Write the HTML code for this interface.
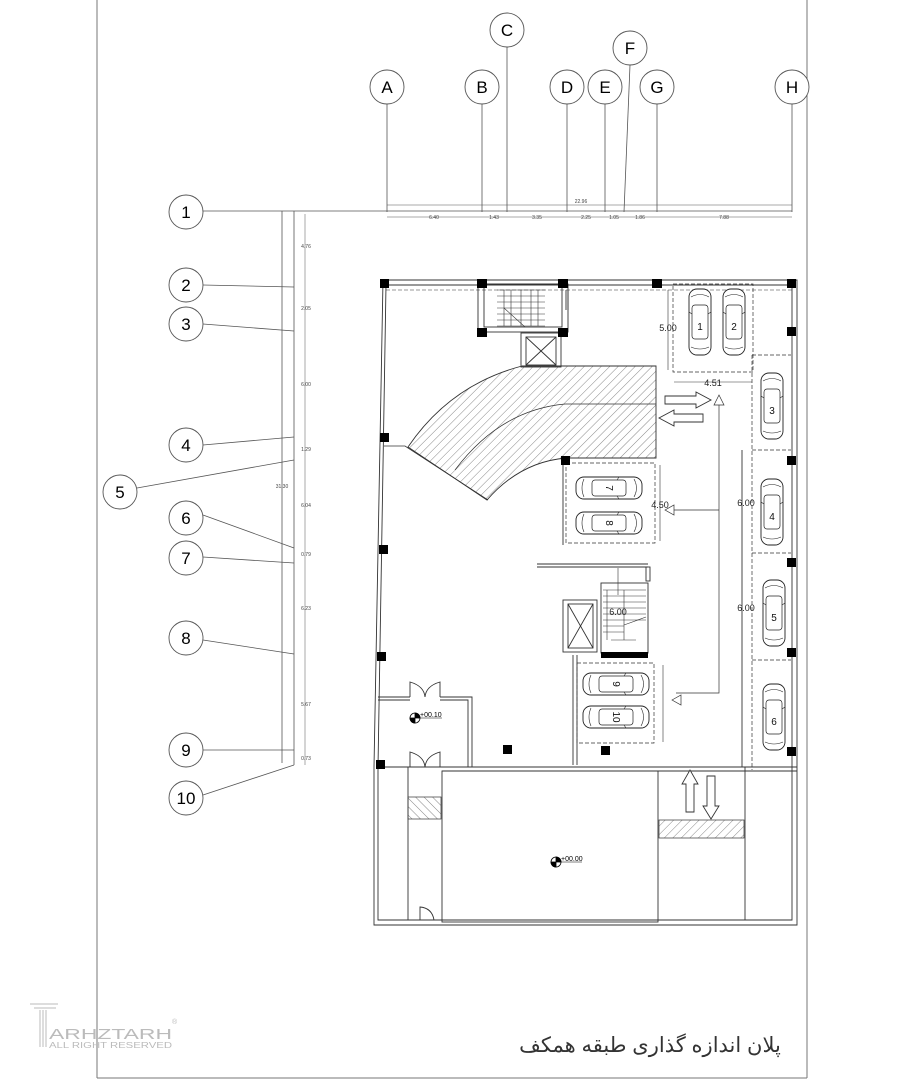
<!DOCTYPE html>
<html><head><meta charset="utf-8"><style>
html,body{margin:0;padding:0;background:#fff;}
svg{display:block;}
text{font-family:"Liberation Sans",sans-serif;}
</style></head><body>
<svg width="906" height="1080" viewBox="0 0 906 1080" xmlns="http://www.w3.org/2000/svg">
<defs>
<pattern id="hatch" width="6" height="6" patternUnits="userSpaceOnUse" patternTransform="rotate(45)">
<line x1="0" y1="0" x2="0" y2="6" stroke="#555" stroke-width="0.7"/>
</pattern>
<pattern id="hatch2" width="6" height="6" patternUnits="userSpaceOnUse" patternTransform="rotate(-45)">
<line x1="0" y1="0" x2="0" y2="6" stroke="#555" stroke-width="0.7"/>
</pattern>
<g id="car">
<rect x="-11" y="-33" width="22" height="66" rx="8" fill="#fff" stroke="#222" stroke-width="0.9"/>
<rect x="-8" y="-17" width="16" height="34" rx="3" fill="none" stroke="#222" stroke-width="0.7"/>
<path d="M-9,-25 Q0,-30 9,-25 M-9,25 Q0,29 9,25 M-11,-10 L-8,-8 M11,-10 L8,-8" fill="none" stroke="#222" stroke-width="0.6"/>
</g>
</defs>

<line x1="97" y1="0" x2="97" y2="1078" stroke="#777" stroke-width="1"/>
<line x1="807" y1="0" x2="807" y2="1078" stroke="#777" stroke-width="1"/>
<line x1="97" y1="1078" x2="807" y2="1078" stroke="#777" stroke-width="1"/>

<g stroke="#555" stroke-width="0.8" fill="none">
<line x1="387" y1="104" x2="387" y2="212"/>
<line x1="482" y1="104" x2="482" y2="212"/>
<line x1="507" y1="47" x2="507" y2="212"/>
<line x1="567" y1="104" x2="567" y2="212"/>
<line x1="605" y1="104" x2="605" y2="212"/>
<line x1="630" y1="65" x2="624" y2="212"/>
<line x1="657" y1="104" x2="657" y2="212"/>
<line x1="792" y1="104" x2="792" y2="212"/>
<line x1="203" y1="211" x2="792" y2="211"/>
<line x1="387" y1="205" x2="792" y2="205" stroke-width="0.5"/>
<line x1="387" y1="217" x2="792" y2="217" stroke-width="0.5"/>
<line x1="282" y1="211" x2="282" y2="763"/>
<line x1="294" y1="211" x2="294" y2="765"/>
<line x1="305" y1="214" x2="305" y2="765" stroke-width="0.5"/>
<line x1="203" y1="285" x2="294" y2="287"/>
<line x1="203" y1="324" x2="294" y2="331"/>
<line x1="203" y1="445" x2="294" y2="437"/>
<line x1="137" y1="488" x2="294" y2="460"/>
<line x1="203" y1="515" x2="294" y2="548"/>
<line x1="203" y1="557" x2="294" y2="563"/>
<line x1="203" y1="640" x2="294" y2="654"/>
<line x1="203" y1="750" x2="294" y2="750"/>
<line x1="203" y1="795" x2="294" y2="765"/>
</g>
<g font-size="5" fill="#444" text-anchor="middle">
<text x="581" y="203">22.96</text>
<text x="434" y="219">6.40</text><text x="494" y="219">1.43</text><text x="537" y="219">3.35</text>
<text x="586" y="219">2.25</text><text x="614" y="219">1.05</text><text x="640" y="219">1.86</text><text x="724" y="219">7.88</text>
<text x="306" y="248">4.76</text><text x="306" y="310">2.05</text><text x="306" y="386">6.00</text>
<text x="306" y="451">1.29</text><text x="306" y="507">6.04</text><text x="306" y="556">0.79</text>
<text x="306" y="610">6.23</text><text x="306" y="706">5.67</text><text x="306" y="760">0.73</text>
<text x="282" y="488">31.30</text>
</g>

<g fill="#fff" stroke="#555" stroke-width="0.9">
<circle cx="387" cy="87" r="17"/><circle cx="482" cy="87" r="17"/><circle cx="507" cy="30" r="17"/>
<circle cx="567" cy="87" r="17"/><circle cx="605" cy="87" r="17"/><circle cx="630" cy="48" r="17"/>
<circle cx="657" cy="87" r="17"/><circle cx="792" cy="87" r="17"/>
<circle cx="186" cy="212" r="17"/><circle cx="186" cy="285" r="17"/><circle cx="186" cy="324" r="17"/>
<circle cx="186" cy="445" r="17"/><circle cx="120" cy="492" r="17"/><circle cx="186" cy="518" r="17"/>
<circle cx="186" cy="558" r="17"/><circle cx="186" cy="638" r="17"/><circle cx="186" cy="750" r="17"/>
<circle cx="186" cy="798" r="17"/>
</g>
<g font-size="17" fill="#000" text-anchor="middle">
<text x="387" y="93">A</text><text x="482" y="93">B</text><text x="507" y="36">C</text>
<text x="567" y="93">D</text><text x="605" y="93">E</text><text x="630" y="54">F</text>
<text x="657" y="93">G</text><text x="792" y="93">H</text>
<text x="186" y="218">1</text><text x="186" y="291">2</text><text x="186" y="330">3</text>
<text x="186" y="451">4</text><text x="120" y="498">5</text><text x="186" y="524">6</text>
<text x="186" y="564">7</text><text x="186" y="644">8</text><text x="186" y="756">9</text>
<text x="186" y="804">10</text>
</g>

<g stroke="#333" stroke-width="0.9" fill="none">
<path d="M383,280 L797,280 L797,925 L374,925 L374,767 L383,280"/>
<path d="M386,285 L792,285 L792,920 L378,920 L378,767 L386,285"/>
<line x1="386" y1="290" x2="792" y2="290" stroke-dasharray="4,2" stroke-width="0.6"/>
<rect x="478" y="284" width="90" height="48"/>
<rect x="484" y="284" width="78" height="43"/>
<g stroke-width="0.6">
<line x1="497" y1="290" x2="545" y2="290"/><line x1="497" y1="296" x2="545" y2="296"/>
<line x1="497" y1="302" x2="545" y2="302"/><line x1="497" y1="308" x2="545" y2="308"/>
<line x1="497" y1="314" x2="545" y2="314"/><line x1="497" y1="320" x2="545" y2="320"/>
<line x1="497" y1="326" x2="545" y2="326"/>
<line x1="504" y1="290" x2="504" y2="326"/><line x1="511" y1="290" x2="511" y2="326"/>
<line x1="521" y1="290" x2="521" y2="326"/><line x1="531" y1="290" x2="531" y2="326"/>
<line x1="538" y1="290" x2="538" y2="326"/><line x1="504" y1="308" x2="525" y2="327"/>
</g>
<line x1="568" y1="290" x2="568" y2="310"/><line x1="566" y1="290" x2="566" y2="310"/>
<rect x="521" y="333" width="40" height="34"/>
<rect x="526" y="337" width="30" height="28"/>
<line x1="526" y1="337" x2="556" y2="365"/><line x1="556" y1="337" x2="526" y2="365"/>
</g>
<path d="M522,366 L656,366 L656,458 L566,458 Q520,462 487,500 L408,447 Q450,385 522,366 Z" fill="url(#hatch)" stroke="#333" stroke-width="0.9"/>
<path d="M656,404 L565,404 Q500,410 455,470" fill="none" stroke="#333" stroke-width="0.7"/>
<path d="M384,446 L405,446 L488,500" fill="none" stroke="#333" stroke-width="0.8"/>

<g stroke="#333" stroke-width="0.9" fill="none">
<g stroke-dasharray="4,2" stroke-width="0.7">
<rect x="673" y="284" width="80" height="88"/>
<path d="M752,355 L791,355 M752,355 L752,770 M752,450 L791,450 M752,553 L791,553 M752,660 L791,660"/>
<rect x="566" y="463" width="89" height="80"/>
<rect x="577" y="663" width="77" height="80"/>
</g>
<line x1="563" y1="462" x2="563" y2="545"/>
<line x1="537" y1="564" x2="648" y2="564"/><line x1="537" y1="567" x2="648" y2="567"/>
<rect x="646" y="567" width="4" height="14"/>
<line x1="573" y1="655" x2="573" y2="765"/><line x1="577" y1="655" x2="577" y2="765"/>
<rect x="601" y="583" width="47" height="70"/>
<g stroke-width="0.6">
<line x1="603" y1="590" x2="646" y2="590"/><line x1="603" y1="596" x2="646" y2="596"/>
<line x1="603" y1="602" x2="646" y2="602"/><line x1="603" y1="608" x2="646" y2="608"/>
<line x1="603" y1="614" x2="646" y2="614"/><line x1="603" y1="620" x2="646" y2="620"/>
<line x1="603" y1="626" x2="624" y2="626"/><line x1="603" y1="632" x2="624" y2="632"/>
<line x1="624" y1="590" x2="624" y2="640"/><line x1="607" y1="590" x2="607" y2="640"/>
<line x1="611" y1="640" x2="636" y2="640"/><line x1="624" y1="625" x2="646" y2="617"/>
<line x1="618" y1="568" x2="618" y2="595"/>
</g>
<rect x="563" y="600" width="34" height="52"/>
<rect x="568" y="604" width="25" height="44"/>
<line x1="568" y1="604" x2="593" y2="648"/><line x1="593" y1="604" x2="568" y2="648"/>
<line x1="378" y1="767" x2="797" y2="767"/><line x1="442" y1="771" x2="797" y2="771"/>
<rect x="442" y="771" width="216" height="151"/>
<line x1="745" y1="767" x2="745" y2="920"/><line x1="742" y1="450" x2="742" y2="767"/>
<line x1="408" y1="767" x2="408" y2="920"/>
<path d="M378,697 L410,697 M440,697 L472,697 L472,767 M378,700 L410,700 M440,700 L468,700 L468,767"/>
<path d="M410,697 L410,682 Q424,686 425,697 M440,697 L440,682 Q426,686 425,697"/>
<path d="M410,767 L410,752 Q424,756 425,767 M440,767 L440,752 Q426,756 425,767"/>
<path d="M420,920 L420,907 Q432,908 434,920"/>
<line x1="674" y1="382" x2="752" y2="382" stroke-width="0.6"/>
<line x1="668" y1="290" x2="668" y2="370" stroke-width="0.6"/>
<line x1="660" y1="465" x2="660" y2="541" stroke-width="0.6"/>
<line x1="663" y1="665" x2="663" y2="742" stroke-width="0.6"/>
<path d="M719,405 L719,693 L676,693 M719,510 L670,510" stroke-width="0.7"/>
<path d="M719,395 L714,405 L724,405 Z M665,510 L674,505 L674,515 Z M672,700 L681,695 L681,705 Z" fill="#fff" stroke-width="0.7"/>
<path d="M665,396 L696,396 L696,392 L711,400 L696,408 L696,404 L665,404 Z" fill="#fff"/>
<path d="M703,414 L674,414 L674,410 L659,418 L674,426 L674,422 L703,422 Z" fill="#fff"/>
<path d="M686,812 L686,784 L682,784 L690,770 L698,784 L694,784 L694,812 Z" fill="#fff"/>
<path d="M707,776 L707,806 L703,806 L711,819 L719,806 L715,806 L715,776 Z" fill="#fff"/>
</g>
<rect x="659" y="820" width="85" height="18" fill="url(#hatch)" stroke="#333" stroke-width="0.7"/>
<rect x="408" y="797" width="33" height="22" fill="url(#hatch2)" stroke="#333" stroke-width="0.7"/>
<rect x="601" y="652" width="47" height="6" fill="#000"/>

<g fill="#000">
<rect x="380" y="279" width="9" height="9"/><rect x="477" y="279" width="10" height="9"/>
<rect x="558" y="279" width="10" height="9"/><rect x="652" y="279" width="10" height="9"/>
<rect x="787" y="279" width="9" height="9"/><rect x="787" y="327" width="9" height="9"/>
<rect x="477" y="328" width="10" height="9"/><rect x="558" y="328" width="10" height="9"/>
<rect x="380" y="433" width="9" height="9"/><rect x="561" y="456" width="9" height="9"/>
<rect x="787" y="456" width="9" height="9"/><rect x="787" y="558" width="9" height="9"/>
<rect x="379" y="545" width="9" height="9"/><rect x="377" y="652" width="9" height="9"/>
<rect x="787" y="648" width="9" height="9"/><rect x="787" y="747" width="9" height="9"/>
<rect x="376" y="760" width="9" height="9"/><rect x="503" y="745" width="9" height="9"/>
<rect x="601" y="746" width="9" height="9"/>
</g>

<use href="#car" transform="translate(700,322)"/>
<use href="#car" transform="translate(734,322)"/>
<use href="#car" transform="translate(772,406)"/>
<use href="#car" transform="translate(772,512)"/>
<use href="#car" transform="translate(774,613)"/>
<use href="#car" transform="translate(774,717)"/>
<use href="#car" transform="translate(609,488) rotate(90)"/>
<use href="#car" transform="translate(609,523) rotate(90)"/>
<use href="#car" transform="translate(616,684) rotate(90)"/>
<use href="#car" transform="translate(616,717) rotate(90)"/>
<g font-size="10" text-anchor="middle" fill="#111">
<text x="700" y="330">1</text><text x="734" y="330">2</text><text x="772" y="414">3</text>
<text x="772" y="520">4</text><text x="774" y="621">5</text><text x="774" y="725">6</text>
<text transform="translate(609,488) rotate(90)" y="3">7</text>
<text transform="translate(609,523) rotate(90)" y="3">8</text>
<text transform="translate(616,684) rotate(90)" y="3">9</text>
<text transform="translate(616,717) rotate(90)" y="3">10</text>
</g>
<g font-size="9" fill="#222" text-anchor="middle">
<text x="668" y="331">5.00</text>
<text x="713" y="386">4.51</text>
<text x="660" y="508">4.50</text>
<text x="746" y="506">6.00</text>
<text x="746" y="611">6.00</text>
<text x="618" y="615">6.00</text>
</g>
<g stroke="#000" stroke-width="0.8">
<circle cx="415" cy="718" r="5" fill="#fff"/><path d="M415,713 A5,5 0 0 1 420,718 L415,718 Z M415,723 A5,5 0 0 1 410,718 L415,718 Z" fill="#000"/>
<line x1="418" y1="718" x2="442" y2="718" stroke-width="0.5"/>
<circle cx="556" cy="862" r="5" fill="#fff"/><path d="M556,857 A5,5 0 0 1 561,862 L556,862 Z M556,867 A5,5 0 0 1 551,862 L556,862 Z" fill="#000"/>
<line x1="559" y1="862" x2="582" y2="862" stroke-width="0.5"/>
</g>
<text x="420" y="717" font-size="7" font-family="Liberation Serif" fill="#000">+00.10</text>
<text x="561" y="861" font-size="7" font-family="Liberation Serif" fill="#000">+00.00</text>

<g stroke="#bbb" fill="none" stroke-width="1">
<line x1="30" y1="1004" x2="58" y2="1004"/><line x1="34" y1="1008" x2="56" y2="1008"/>
<line x1="40" y1="1010" x2="40" y2="1047"/><line x1="43" y1="1010" x2="43" y2="1047"/>
<line x1="46" y1="1010" x2="46" y2="1047"/>
</g>
<text x="49" y="1039" font-size="15" fill="#bbb" textLength="123" lengthAdjust="spacingAndGlyphs">ARHZTARH</text>
<text x="49" y="1048" font-size="8" fill="#bbb" textLength="123" lengthAdjust="spacingAndGlyphs">ALL RIGHT RESERVED</text>
<text x="172" y="1024" font-size="7" fill="#bbb">®</text>
<text x="650" y="1052" font-size="21" fill="#333" text-anchor="middle" font-family="'Liberation Serif','DejaVu Sans',serif">پلان اندازه گذاری طبقه همکف</text>
</svg>
</body></html>
